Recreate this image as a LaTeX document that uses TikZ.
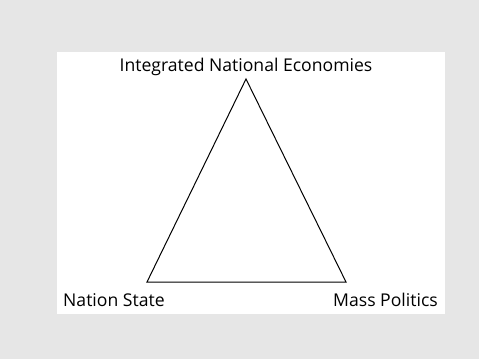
\documentclass[tikz,border=0pt]{standalone}
\usepackage{fontspec}
\setmainfont{Open Sans}
\definecolor{bggray}{RGB}{230,230,230}
\begin{document}
\begin{tikzpicture}[x=1pt,y=1pt,
  lbl/.style={inner sep=0pt,font=\fontsize{17.6}{20}\selectfont},
  tri/.style={draw=black,line width=1pt,line join=miter}]
\fill[bggray] (0,0) rectangle (479,359);
\fill[white] (57,45) rectangle (445,307);
\coordinate (A) at (246,280);
\coordinate (B) at (147,77);
\coordinate (C) at (346,77);
\draw[tri] (A) -- (B) -- (C) -- cycle;
\node[lbl,anchor=base] (top) at (246,287) {Integrated National Economies};
\node[lbl,anchor=base west] (ns) at (63,53) {Nation State};
\node[lbl,anchor=base east] (mp) at (438,53) {Mass Politics};
\end{tikzpicture}
\end{document}
